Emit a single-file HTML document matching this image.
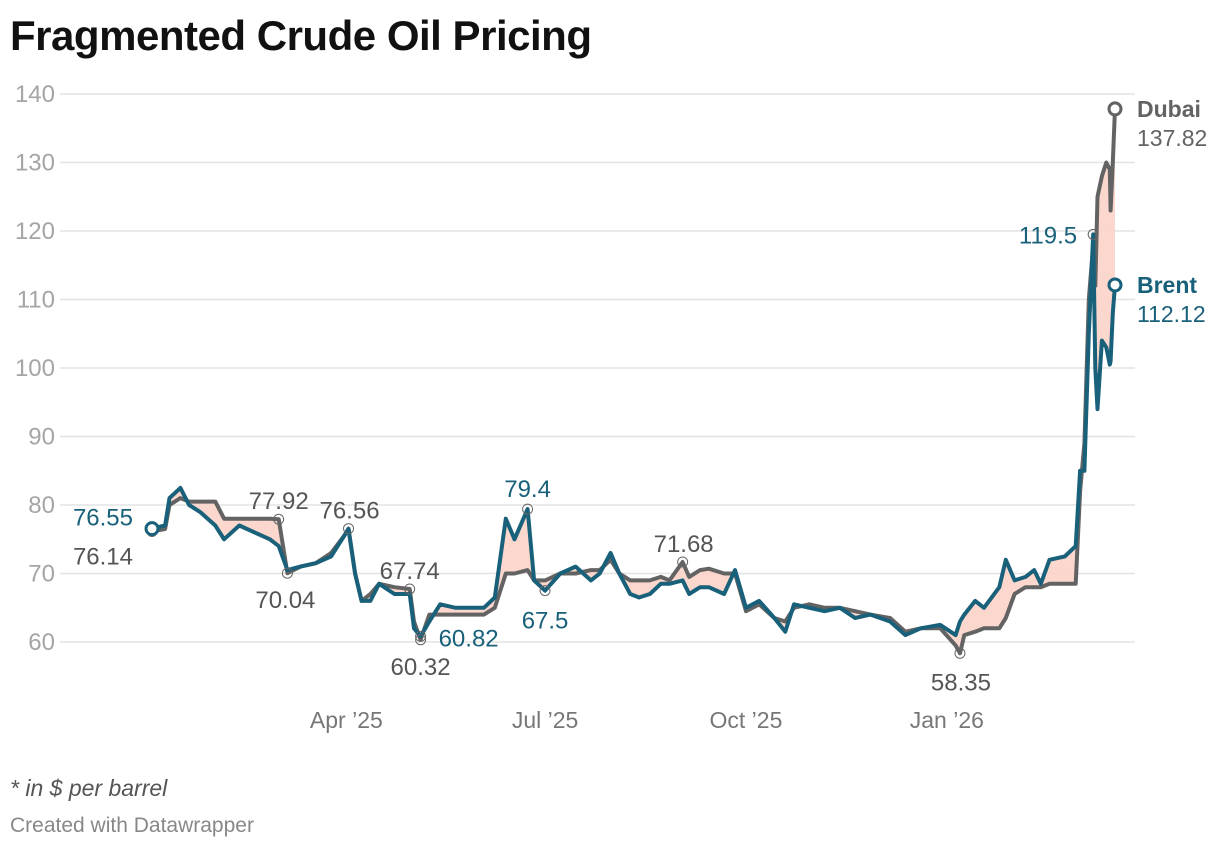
<!DOCTYPE html>
<html><head><meta charset="utf-8">
<style>
body{margin:0;background:#fff;width:1220px;height:848px;overflow:hidden;font-family:"Liberation Sans",sans-serif}
svg text{font-family:"Liberation Sans",sans-serif}
</style></head><body>
<svg width="1220" height="848">
<text x="10" y="50" font-size="42" font-weight="bold" fill="#111" textLength="582">Fragmented Crude Oil Pricing</text>
<g id="grid"></g><g id="area"></g><g id="lines"></g><g id="anno"></g>
<text x="10" y="796" font-size="23" font-style="italic" fill="#555">* in $ per barrel</text>
<text x="10" y="832" font-size="21" fill="#888">Created with Datawrapper</text>
</svg>
<script>
const days=[0,6,8,13,17,22,29,33,40,47,54,58,62,68,75,82,88,90,93,96,100,104,111,118,120,123,127,132,139,146,152,157,162,166,172,175,180,187,194,201,205,210,214,219,223,228,233,237,243,246,251,255,262,267,272,278,285,290,294,301,308,315,322,329,338,345,352,361,368,370,372,377,381,388,391,395,400,404,407,411,418,423,425,427,429,431,432,433,435,437,438.6,439,440,441];
const brent=[76.55,77,81,82.5,80,79,77,75,77,76,75,74,70.5,71,71.5,72.5,75.5,76.5,70,66,66,68.5,67,67,62,60.82,63,65.5,65,65,65,66.5,78,75,79.4,69,67.5,70,71,69,70,73,70,67,66.5,67,68.5,68.5,69,67,68,68,67,70.5,65,66,63.5,61.5,65.5,65,64.5,65,63.5,64,63,61,62,62.5,61,63,64,66,65,68,72,69,69.5,70.5,68.5,72,72.5,74,85,85,105,119.5,100,94,104,103,100.5,101,108,112.12];
const dubai=[76.14,76.5,80,81,80.5,80.5,80.5,78,78,78,78,77.92,70.04,71,71.5,73,75.5,76.56,70,66,67,68.5,68,67.74,63,60.32,64,64,64,64,64,65,70,70,70.5,69,69,70,70,70.5,70.5,72,70,69,69,69,69.5,69,71.68,69.5,70.5,70.7,70,70,64.5,65.5,63.5,63,65,65.5,65,65,64.5,64,63.5,61.5,62,62,59.5,58.35,61,61.5,62,62,63.5,67,68,68,68,68.5,68.5,68.5,82,89,110,118,112,125,128,130,129,123,130,137.82];
const yTicks=[60,70,80,90,100,110,120,130,140];
const xTicks=[{d:89,l:"Apr \u201925"},{d:180,l:"Jul \u201925"},{d:272,l:"Oct \u201925"},{d:364,l:"Jan \u201926"}];
const NS="http://www.w3.org/2000/svg";
const X=d=>152+d*(963/441);
const Y=v=>642-(v-60)*6.85;
function mk(p,tag,a){const e=document.createElementNS(NS,tag);for(const k in a)e.setAttribute(k,a[k]);p.appendChild(e);return e;}
const grid=document.getElementById('grid');
yTicks.forEach(v=>{
 const l=mk(grid,'line',{x1:60,x2:1135,y1:Y(v),y2:Y(v),stroke:'#e3e3e3','stroke-width':1.5});
 
 
 const t=mk(grid,'text',{x:55,y:Y(v)+8,'text-anchor':'end','font-size':24,fill:'#a5a5a5'});
 t.textContent=v;
 
 
});
xTicks.forEach(o=>{
 const t=mk(grid,'text',{x:X(o.d),y:728,'text-anchor':'middle','font-size':23,fill:'#777'});
 t.textContent=o.l;
 
 
});
const bp=days.map((d,i)=>X(d).toFixed(1)+','+Y(brent[i]).toFixed(1));
const dp=days.map((d,i)=>X(d).toFixed(1)+','+Y(dubai[i]).toFixed(1));
const area=mk(document.getElementById('area'),'polygon',{points:bp.concat(dp.slice().reverse()).join(' '),fill:'#fcd3c8',opacity:0.9});


const lines=document.getElementById('lines');
const dl=mk(lines,'polyline',{points:dp.join(' '),fill:'none',stroke:'#636363','stroke-width':4,'stroke-linejoin':'round','stroke-linecap':'round'});


const bl=mk(lines,'polyline',{points:bp.join(' '),fill:'none',stroke:'#19617a','stroke-width':4,'stroke-linejoin':'round','stroke-linecap':'round'});


const anno=document.getElementById('anno');
const notes=[['b',0,'76.55',-19,-3,'end'],['d',0,'76.14',-19,33,'end'],['d',11,'77.92',0,-10,'middle'],['d',12,'70.04',-2,35,'middle'],['d',17,'76.56',1,-10,'middle'],['d',23,'67.74',0,-10,'middle'],['d',25,'60.32',0,35,'middle'],['b',25,'60.82',18,10,'start'],['b',34,'79.4',0,-12,'middle'],['b',36,'67.5',0,38,'middle'],['d',48,'71.68',1,-10,'middle'],['d',69,'58.35',1,37,'middle'],['b',85,'119.5',-16,9,'end']];
notes.forEach(n=>{
 const v=(n[0]=='b'?brent:dubai)[n[1]];const x=X(days[n[1]]),y=Y(v);
 const c=mk(anno,'circle',{cx:x,cy:y,r:5,fill:'none',stroke:'#666','stroke-width':1});
 
 
 const t=mk(anno,'text',{x:x+n[3],y:y+n[4],'text-anchor':n[5],'font-size':24,fill:n[0]=='b'?'#19617a':'#555'});
 t.textContent=n[2];
 
 
});
const sc=mk(anno,'circle',{cx:X(days[0]),cy:Y(brent[0]),r:6,fill:'#fff',stroke:'#19617a','stroke-width':3});


[['d',dubai,'#636363','Dubai'],['b',brent,'#19617a','Brent']].forEach(s=>{
 const i=days.length-1,x=X(days[i]),y=Y(s[1][i]);
 const c=mk(anno,'circle',{cx:x,cy:y,r:6,fill:'#fff',stroke:s[2],'stroke-width':3});
 
 
 const t=mk(anno,'text',{x:1137,y:y+8,'font-size':23,'font-weight':'bold',fill:s[2]});
 t.textContent=s[3];
 
 
 const t2=mk(anno,'text',{x:1137,y:y+37,'font-size':23,fill:s[2]});
 t2.textContent=s[1][i];
 
 
});
</script>
</body></html>
